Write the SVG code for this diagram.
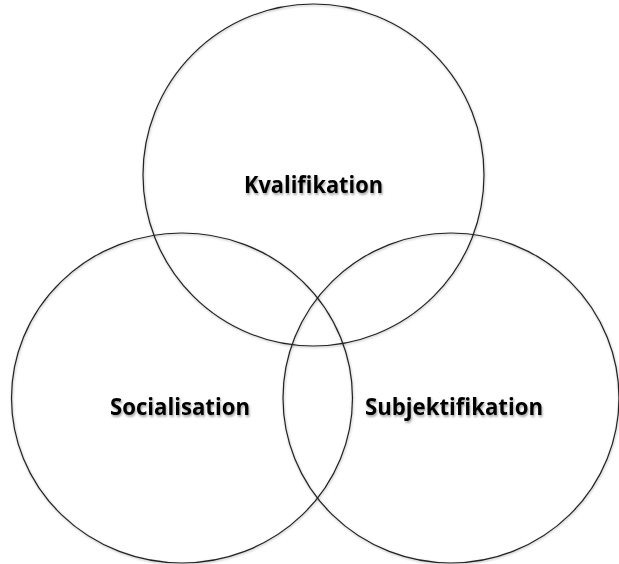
<svg xmlns="http://www.w3.org/2000/svg" width="619" height="564" viewBox="0 0 619 564">
<style>
.c{fill:none;stroke:#222;stroke-width:1.2}
.t{font-family:"Open Sans","Liberation Sans",sans-serif;font-weight:bold;font-size:23px;fill:#000;text-anchor:middle}
</style>
<defs>
<filter id="sh" x="-10%" y="-10%" width="120%" height="130%">
<feDropShadow dx="1" dy="2" stdDeviation="1.2" flood-color="#000" flood-opacity="0.35"/>
</filter>
<filter id="csh" x="-5%" y="-5%" width="110%" height="110%">
<feDropShadow dx="0.5" dy="1" stdDeviation="0.8" flood-color="#000" flood-opacity="0.3"/>
</filter>
</defs>
<rect width="619" height="564" fill="#fff"/>
<g id="kvalifikation">
<ellipse class="c" cx="313.5" cy="175" rx="170.5" ry="171" filter="url(#csh)"/>
<text class="t" x="313.5" y="193" textLength="139" lengthAdjust="spacingAndGlyphs" filter="url(#sh)">Kvalifikation</text>
</g>
<g id="socialisation">
<ellipse class="c" cx="182" cy="398" rx="170.5" ry="165" filter="url(#csh)"/>
<text class="t" x="180" y="415" textLength="140" lengthAdjust="spacingAndGlyphs" filter="url(#sh)">Socialisation</text>
</g>
<g id="subjektifikation">
<ellipse class="c" cx="451" cy="398" rx="168" ry="165" filter="url(#csh)"/>
<text class="t" x="454" y="415" textLength="178" lengthAdjust="spacingAndGlyphs" filter="url(#sh)">Subjektifikation</text>
</g>
<g id="connectors"/>
</svg>
